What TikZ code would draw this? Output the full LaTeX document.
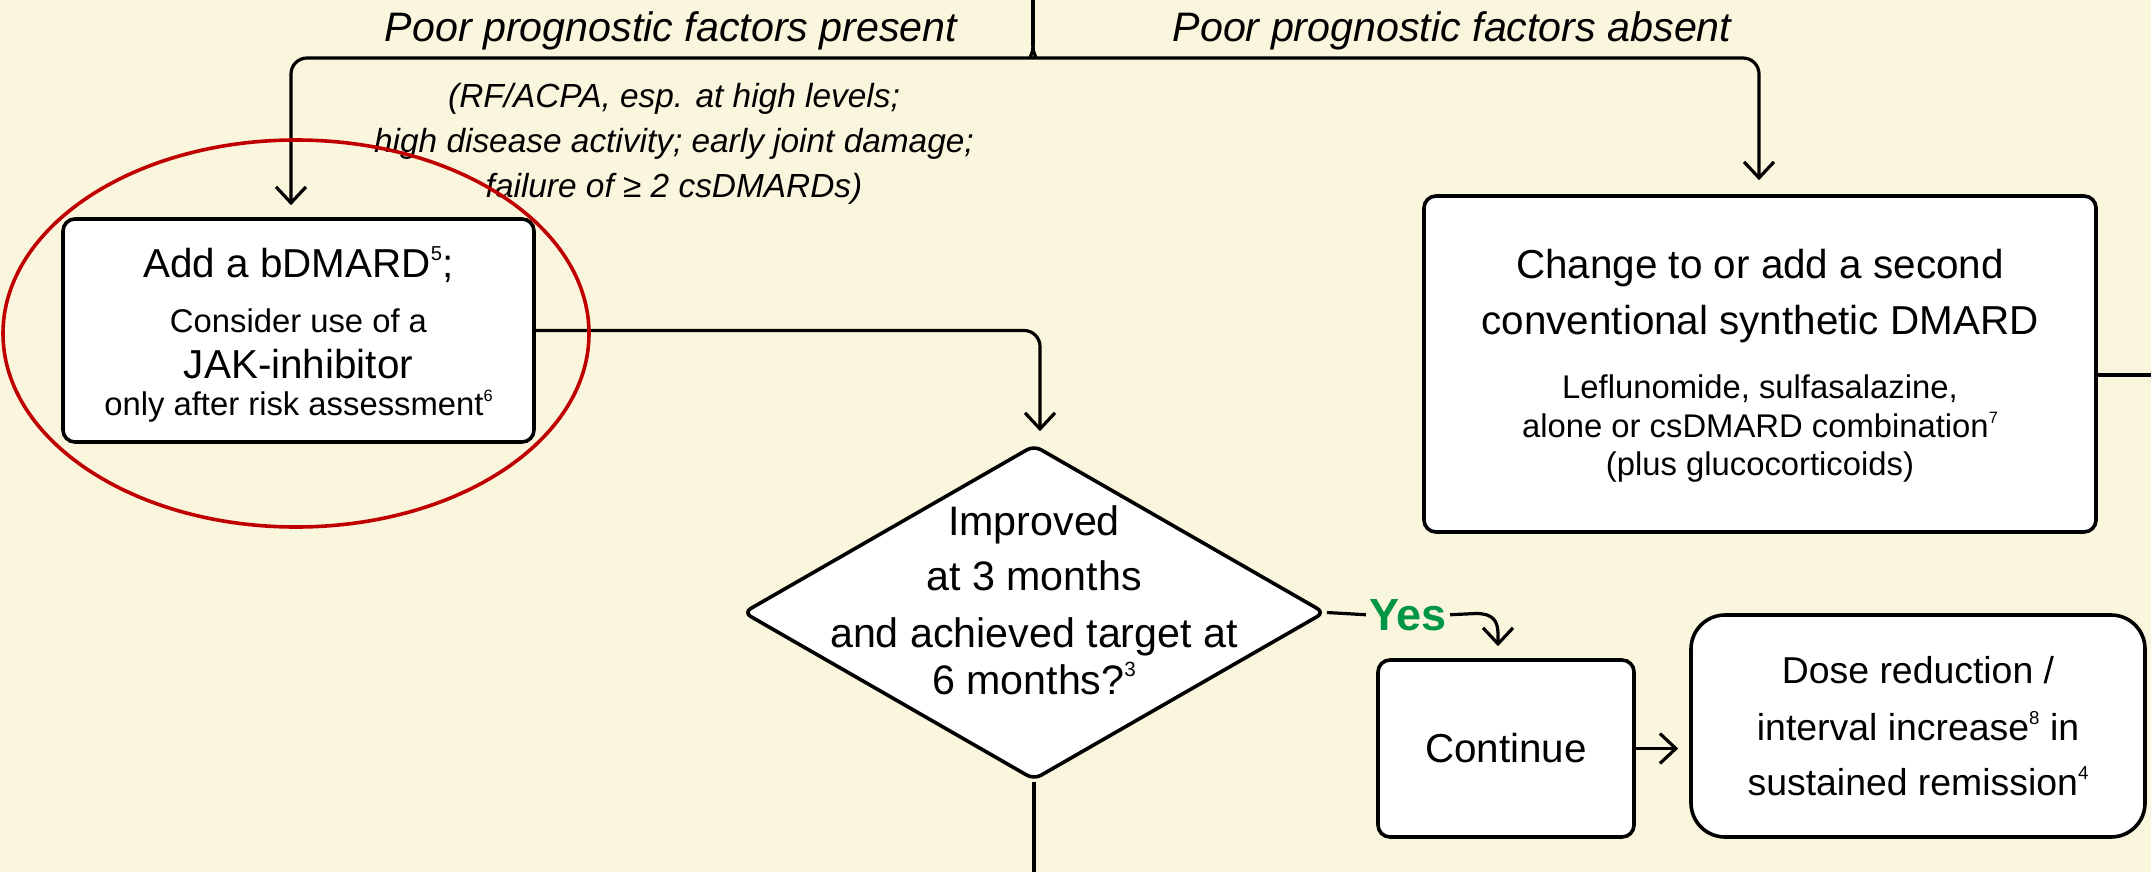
\documentclass[tikz,border=0pt]{standalone}
\usepackage{fontspec}
\usepackage{graphicx}
\setmainfont{Liberation Sans}
\usetikzlibrary{arrows.meta,shapes.geometric,calc}
\definecolor{bgcream}{RGB}{250,246,222}
\definecolor{ringred}{RGB}{192,0,0}
\definecolor{yesgreen}{RGB}{0,150,70}
% small raised reference numbers
\newcommand{\refmark}[1]{\raisebox{0.42em}{\scalebox{0.5}{#1}}}
\begin{document}
\begin{tikzpicture}[x=0.5pt,y=-0.5pt,
  conn/.style={line width=1.6pt, draw=black},
  arr/.style={conn, -{Straight Barb[length=8pt,width=15pt,line width=1.6pt]}},
  box/.style={draw=black, line width=1.8pt, fill=white, rounded corners=6pt, inner sep=0pt},
  txtbig/.style={font=\fontsize{20.2}{24}\selectfont, anchor=base, inner sep=0pt},
  txtsmall/.style={font=\fontsize{16.4}{20}\selectfont, anchor=base, inner sep=0pt},
  txtdia/.style={font=\fontsize{20.6}{24}\selectfont, anchor=base, inner sep=0pt},
  txtdose/.style={font=\fontsize{18.7}{22}\selectfont, anchor=base, inner sep=0pt},
  txttop/.style={font=\fontsize{20.6}{24}\selectfont\itshape, anchor=base, inner sep=0pt},
  txtpar/.style={font=\fontsize{16.7}{20}\selectfont\itshape, anchor=base, inner sep=0pt},
  yeslabel/.style={font=\fontsize{22.5}{26}\selectfont\bfseries, text=yesgreen,
    anchor=base, inner xsep=1.5pt, inner ysep=0pt}
]
% canvas
\fill[bgcream] (0,0) rectangle (2151,872);
\useasboundingbox (0,0) rectangle (2151,872);

% boxes
\node[box, minimum width=235.5pt, minimum height=111.5pt] (lbox) at (298.5,330.5) {};
\node[box, minimum width=336pt, minimum height=168pt] (cbox) at (1760,364) {};
\node[box, diamond, rounded corners=4pt, minimum width=291pt, minimum height=167.5pt] (dia) at (1034,612.5) {};
\node[box, minimum width=128pt, minimum height=88.5pt] (cont) at (1506,748.5) {};
\node[box, rounded corners=17pt, minimum width=227pt, minimum height=111pt] (dose) at (1918,726) {};

% branch labels
\node[txttop] (tpres) at (671,42) {Poor prognostic factors present};
\node[txttop] (tabs) at (1452,42) {Poor prognostic factors absent};
\node[txtpar] (p1) at (674,108) {(RF/ACPA, esp. at high levels;};
\node[txtpar] (p2) at (674,152) {high disease activity; early joint damage;};
\node[txtpar] (p3) at (674,197) {failure of ≥ 2 csDMARDs)};

% box texts
\node[txtbig] (l1) at (298.5,277) {Add a bDMARD\refmark{5};};
\node[txtsmall] (l2) at (298.5,332) {Consider use of a};
\node[txtbig] (l3) at (298.5,378) {JAK-inhibitor};
\node[txtsmall] (l4) at (298.5,415) {only after risk assessment\refmark{6}};

\node[txtbig] (c1) at (1760,278) {Change to or add a second};
\node[txtbig] (c2) at (1760,334) {conventional synthetic DMARD};
\node[txtsmall] (c3) at (1760,398) {Leflunomide, sulfasalazine,};
\node[txtsmall] (c4) at (1760,437) {alone or csDMARD combination\refmark{7}};
\node[txtsmall] (c5) at (1760,475) {(plus glucocorticoids)};

\node[txtdia] (d1) at (1034,535) {Improved};
\node[txtdia] (d2) at (1034,590) {at 3 months};
\node[txtdia] (d3) at (1034,647) {and achieved target at};
\node[txtdia] (d4) at (1034,694) {6 months?\refmark{3}};

\node[txtbig] (ct) at (1506,762) {Continue};

\node[txtdose] (r1) at (1918,683) {Dose reduction /};
\node[txtdose] (r2) at (1918,740) {interval increase\refmark{8} in};
\node[txtdose] (r3) at (1918,795) {sustained remission\refmark{4}};

\node[yeslabel] (yes) at (1408,630) {Yes};

% connectors
\coordinate (top) at (1033,0);
\coordinate (jn) at (1033,46);
\coordinate (lc) at (291,58);
\coordinate (rc) at (1759,58);
\coordinate (bot) at (1033,872);
\coordinate (rend) at (2151,375);
\coordinate (ya) at (1476,613.5);
\coordinate (yk) at (1498,634);

\draw[conn] (top) -- (jn);
\draw[arr, rounded corners=8pt, shorten >=6pt]
  (jn) .. controls (1033,56) and (1027,58) .. (1017,58) -- (lc) -- (lc |- lbox.north);
\draw[arr, rounded corners=8pt, shorten >=7pt]
  (jn) .. controls (1033,56) and (1039,58) .. (1049,58) -- (rc) -- (rc |- cbox.north);
\draw[arr, rounded corners=8pt, shorten >=6pt] (lbox.east) -| ([xshift=3pt]dia.north);
\draw[conn] (dia.south) -- (dia.south |- bot);
\draw[conn] (cbox.east |- rend) -- (rend);
\draw[conn] (dia.east) -- (yes.west);
\draw[arr, shorten >=6pt] (yes.east) -- (ya) .. controls (1492,613.5) and (1498,620) .. (yk) -- (yk |- cont.north);
\draw[arr, shorten >=5.5pt] (cont.east) -- (cont.east -| dose.west);

% highlight ring
\node[draw=ringred, line width=1.8pt, ellipse, inner sep=0pt,
  minimum width=293pt, minimum height=193.5pt] (ring) at (296,333.5) {};
\end{tikzpicture}
\end{document}
